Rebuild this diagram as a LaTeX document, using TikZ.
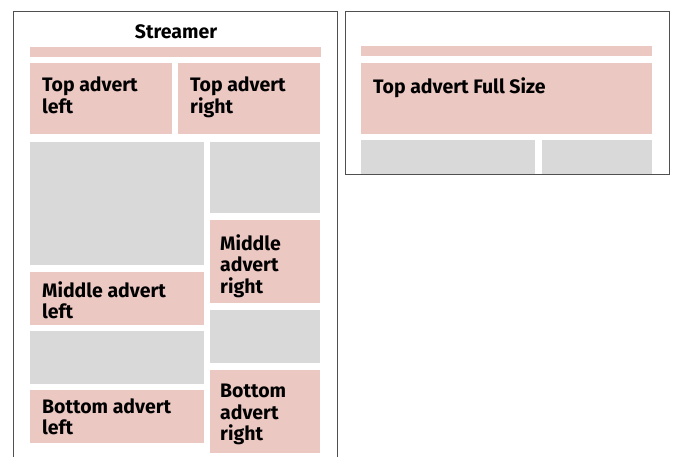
\documentclass[tikz,border=0pt]{standalone}
\usepackage{fontspec}
\setmainfont{Fira Sans}
\usetikzlibrary{positioning}
\definecolor{advpink}{RGB}{236,200,195}
\definecolor{advgray}{RGB}{217,217,217}
\definecolor{framegray}{RGB}{80,80,80}
\tikzset{
  advert/.style={fill=advpink, inner sep=0pt, outer sep=0pt, anchor=north west},
  filler/.style={fill=advgray, inner sep=0pt, outer sep=0pt, anchor=north west},
  advtext/.style={anchor=north west, inner sep=0pt, align=left,
    font=\fontsize{19.5}{21.5}\selectfont\bfseries},
  pageframe/.style={draw=framegray, line width=0.8pt}
}
\begin{document}
\begin{tikzpicture}[x=1pt,y=-1pt]
\useasboundingbox (0,0) rectangle (675,457);
% left page
\node[advert, minimum width=291pt, minimum height=10pt] (streamL) at (30,47) {};
\node[advert, minimum width=142pt, minimum height=71pt] (topL) at (30,63) {};
\node[advert, minimum width=142pt, minimum height=71pt] (topR) at (178,63) {};
\node[filler, minimum width=174pt, minimum height=123pt] (grayA) at (30,142) {};
\node[filler, minimum width=110pt, minimum height=71pt] (grayB) at (210,142) {};
\node[advert, minimum width=110pt, minimum height=83pt] (midR) at (210,220) {};
\node[advert, minimum width=174pt, minimum height=53pt] (midL) at (30,272) {};
\node[filler, minimum width=110pt, minimum height=53pt] (grayC) at (210,310) {};
\node[filler, minimum width=174pt, minimum height=53pt] (grayD) at (30,331) {};
\node[advert, minimum width=110pt, minimum height=83pt] (botR) at (210,370) {};
\node[advert, minimum width=174pt, minimum height=53pt] (botL) at (30,390) {};
% texts
\node[font=\fontsize{19.5}{21.5}\selectfont\bfseries] (streamer) at (176,32) {Streamer};
\node[advtext] (topLtext) at (42,77) {Top advert\\left};
\node[advtext] (topRtext) at (190,77) {Top advert\\right};
\node[advtext] (midRtext) at (220,234) {Middle\\advert\\right};
\node[advtext] (midLtext) at (42,281) {Middle advert\\left};
\node[advtext] (botRtext) at (220,384) {Bottom\\advert\\right};
\node[advtext] (botLtext) at (42,398) {Bottom advert\\left};
\draw[pageframe] (13,457) -- (13,11) -- (337,11) -- (337,457);
% right page
\node[advert, minimum width=291pt, minimum height=10pt] (streamF) at (361,46) {};
\node[advert, minimum width=291pt, minimum height=71pt] (topF) at (361,63) {};
\node[filler, minimum width=174pt, minimum height=34pt] (grayE) at (361,140) {};
\node[filler, minimum width=110pt, minimum height=34pt] (grayF) at (542,140) {};
\node[advtext] (topFtext) at (373,77) {Top advert Full Size};
\draw[pageframe] (345,11) rectangle (669,174);
\end{tikzpicture}
\end{document}
